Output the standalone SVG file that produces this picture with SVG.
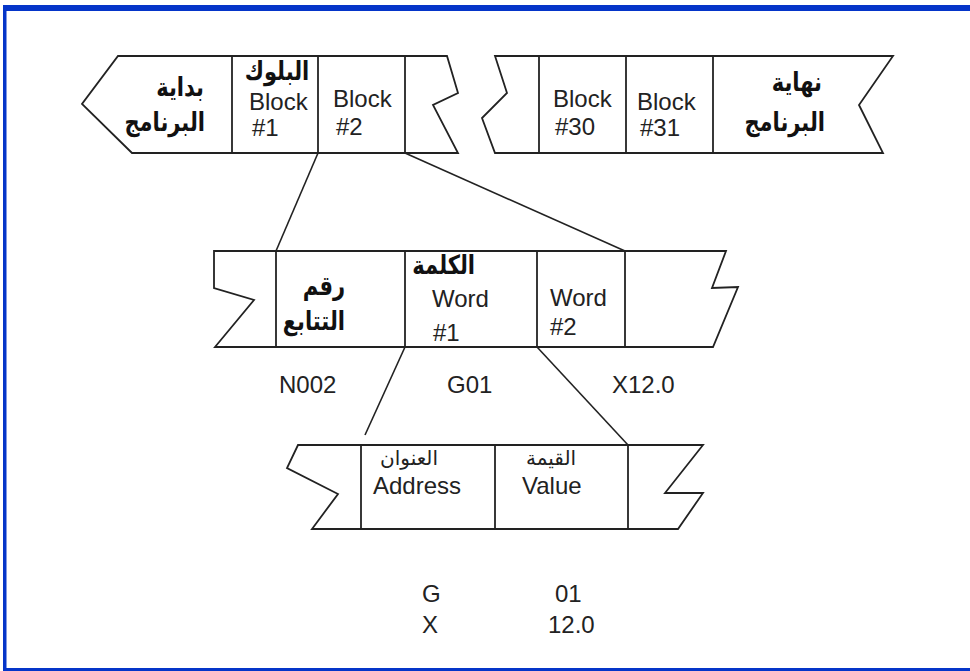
<svg xmlns="http://www.w3.org/2000/svg" width="970" height="671" viewBox="0 0 970 671">
<style>
.o{fill:#fff;stroke:#222;stroke-width:1.8;stroke-linejoin:miter}
.d{stroke:#222;stroke-width:1.8}
.c{stroke:#222;stroke-width:1.6;fill:none}
.t{font-family:"Liberation Sans",Arial,sans-serif;font-size:24px;fill:#222}
.ab{font-family:"DejaVu Sans","Noto Sans",sans-serif;font-size:21px;font-weight:bold;fill:#111}
.ar{font-family:"DejaVu Sans","Noto Sans",sans-serif;font-size:20px;fill:#222}
</style>
<rect x="0" y="0" width="970" height="671" fill="#fff"/>
<g id="frame" fill="#0535C9">
<rect x="3" y="5" width="967" height="6"/>
<rect x="3" y="5" width="3.5" height="666"/>
<rect x="3" y="668" width="967" height="3"/>
</g>
<g id="connectors">
<line class="c" x1="318" y1="153" x2="276" y2="251"/>
<line class="c" x1="405" y1="153" x2="625" y2="251"/>
<line class="c" x1="405" y1="347" x2="365" y2="435"/>
<line class="c" x1="537" y1="347" x2="628" y2="445"/>
</g>
<g id="program-start">
<path class="o" d="M118,56 L447,56 L458,93 L433,105 L458,153 L132,153 L82,104 Z"/>
<line class="d" x1="232" y1="56" x2="232" y2="153"/>
<line class="d" x1="318" y1="56" x2="318" y2="153"/>
<line class="d" x1="405" y1="56" x2="405" y2="153"/>
<text class="ab" transform="translate(204,96) scale(1,1.25)" text-anchor="end">بداية</text>
<text class="ab" transform="translate(205,131) scale(1,1.25)" text-anchor="end">البرنامج</text>
<text class="ab" transform="translate(277,80) scale(1,1.25)" text-anchor="middle">البلوك</text>
<text class="t" x="249" y="110">Block</text>
<text class="t" x="252" y="136">#1</text>
<text class="t" x="333" y="107">Block</text>
<text class="t" x="336" y="135">#2</text>
</g>
<g id="program-end">
<path class="o" d="M495,56 L893,56 L859,105 L883,153 L495,153 L482,118 L507,93 Z"/>
<line class="d" x1="539" y1="56" x2="539" y2="153"/>
<line class="d" x1="626" y1="56" x2="626" y2="153"/>
<line class="d" x1="713" y1="56" x2="713" y2="153"/>
<text class="t" x="553" y="107">Block</text>
<text class="t" x="555" y="135">#30</text>
<text class="t" x="637" y="110">Block</text>
<text class="t" x="640" y="136">#31</text>
<text class="ab" transform="translate(822,91) scale(1,1.25)" text-anchor="end">نهاية</text>
<text class="ab" transform="translate(825,131) scale(1,1.25)" text-anchor="end">البرنامج</text>
</g>
<g id="block">
<path class="o" d="M214,251 L726,251 L712,288 L738,287 L713,347 L215,347 L254,300 L214,288 Z"/>
<line class="d" x1="276" y1="251" x2="276" y2="347"/>
<line class="d" x1="405" y1="251" x2="405" y2="347"/>
<line class="d" x1="537" y1="251" x2="537" y2="347"/>
<line class="d" x1="625" y1="251" x2="625" y2="347"/>
<text class="ab" transform="translate(345,295) scale(1,1.25)" text-anchor="end">رقم</text>
<text class="ab" transform="translate(345,330) scale(1,1.25)" text-anchor="end">التتابع</text>
<text class="ab" transform="translate(475,274) scale(1,1.25)" text-anchor="end">الكلمة</text>
<text class="t" x="432" y="307">Word</text>
<text class="t" x="433" y="341">#1</text>
<text class="t" x="550" y="306">Word</text>
<text class="t" x="550" y="335">#2</text>
<text class="t" x="279" y="393">N002</text>
<text class="t" x="447" y="393">G01</text>
<text class="t" x="612" y="393">X12.0</text>
</g>
<g id="word">
<path class="o" d="M298,445 L703,445 L665,493 L703,493 L678,529 L312,529 L338,494 L287,468 Z"/>
<line class="d" x1="361" y1="445" x2="361" y2="529"/>
<line class="d" x1="495" y1="445" x2="495" y2="529"/>
<line class="d" x1="628" y1="445" x2="628" y2="529"/>
<text class="ar" x="438" y="465" text-anchor="end">العنوان</text>
<text class="t" x="373" y="494">Address</text>
<text class="ar" x="551" y="465" text-anchor="middle">القيمة</text>
<text class="t" x="522" y="494">Value</text>
</g>
<g id="values">
<text class="t" x="422" y="602">G</text>
<text class="t" x="555" y="602">01</text>
<text class="t" x="422" y="633">X</text>
<text class="t" x="548" y="633">12.0</text>
</g>
</svg>
